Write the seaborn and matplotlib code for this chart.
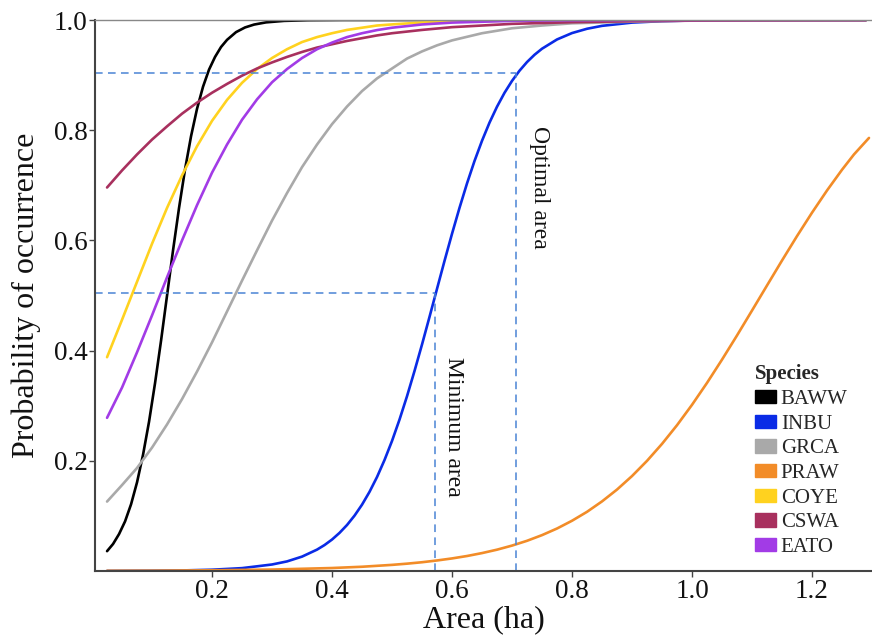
import numpy as np
import pandas as pd
import matplotlib
matplotlib.use("Agg")
import matplotlib.pyplot as plt
import matplotlib.patches as mpatches
import seaborn as sns

# predicted probability of occurrence vs patch area
species = ["BAWW", "INBU", "GRCA", "PRAW", "COYE", "CSWA", "EATO"]
colors = ["#000000", "#0a2be6", "#a9a9a9", "#f28c28", "#ffd21f", "#a8305e", "#a23be6"]

baww_x = [0.025, 0.035, 0.045, 0.055, 0.065, 0.075, 0.085, 0.095, 0.105, 0.115, 0.125,
          0.135, 0.145, 0.155, 0.165, 0.175, 0.185, 0.195, 0.205, 0.215, 0.225, 0.24,
          0.255, 0.27, 0.29, 0.32, 0.36, 0.42, 0.6, 0.8, 1.0, 1.29]
baww_p = [0.036, 0.049, 0.067, 0.090, 0.121, 0.161, 0.211, 0.271, 0.341, 0.418, 0.500,
          0.582, 0.659, 0.729, 0.789, 0.839, 0.879, 0.910, 0.933, 0.951, 0.964, 0.978,
          0.9865, 0.9917, 0.9957, 0.9984, 0.9996, 1.0, 1.0, 1.0, 1.0, 1.0]

grid_x = [0.025, 0.05, 0.075, 0.10, 0.125, 0.15, 0.175, 0.20, 0.225, 0.25, 0.275, 0.30,
          0.325, 0.35, 0.375, 0.40, 0.425, 0.45, 0.475, 0.50, 0.55, 0.60, 0.70, 0.80,
          0.90, 1.0, 1.1, 1.29]
coye_p = [0.388, 0.456, 0.525, 0.594, 0.659, 0.718, 0.771, 0.817, 0.855, 0.886, 0.911, 0.931,
          0.947, 0.960, 0.969, 0.976, 0.982, 0.986, 0.990, 0.992, 0.9955, 0.9974, 0.9991,
          0.9997, 1.0, 1.0, 1.0, 1.0]
eato_p = [0.278, 0.333, 0.397, 0.464, 0.533, 0.600, 0.664, 0.723, 0.774, 0.819, 0.856, 0.887,
          0.911, 0.931, 0.947, 0.959, 0.969, 0.976, 0.9817, 0.986, 0.9919, 0.9953, 0.9984,
          0.9995, 0.9998, 1.0, 1.0, 1.0]
cswa_p = [0.696, 0.727, 0.756, 0.783, 0.807, 0.830, 0.850, 0.868, 0.884, 0.899, 0.912, 0.923,
          0.933, 0.942, 0.950, 0.956, 0.962, 0.967, 0.972, 0.976, 0.982, 0.987, 0.993,
          0.996, 0.9978, 0.9988, 0.9993, 0.9998]

grca_x = [0.025, 0.05, 0.075, 0.10, 0.125, 0.15, 0.175, 0.20, 0.225, 0.25, 0.275, 0.30,
          0.325, 0.35, 0.375, 0.40, 0.425, 0.45, 0.475, 0.50, 0.525, 0.55, 0.575, 0.60,
          0.65, 0.70, 0.75, 0.80, 0.90, 1.0, 1.1, 1.29]
grca_p = [0.126, 0.156, 0.187, 0.224, 0.266, 0.312, 0.362, 0.415, 0.471, 0.527, 0.582, 0.636,
          0.686, 0.733, 0.774, 0.811, 0.843, 0.871, 0.894, 0.912, 0.930, 0.943, 0.954, 0.963,
          0.976, 0.985, 0.990, 0.994, 0.997, 0.999, 0.9996, 1.0]

inbu_x = [0.025, 0.1, 0.15, 0.2, 0.25, 0.30, 0.325, 0.35, 0.375, 0.3875, 0.40, 0.4125,
          0.425, 0.4375, 0.45, 0.4625, 0.475, 0.4875, 0.50, 0.5125, 0.525, 0.5375, 0.55,
          0.5625, 0.575, 0.5875, 0.60, 0.6125, 0.625, 0.6375, 0.65, 0.6625, 0.675, 0.6875,
          0.70, 0.7125, 0.725, 0.7375, 0.75, 0.775, 0.80, 0.825, 0.85, 0.90, 0.95, 1.0,
          1.1, 1.29]
inbu_p = [0.0001, 0.0005, 0.001, 0.0023, 0.0052, 0.0118, 0.0174, 0.0261, 0.0388, 0.0471,
          0.0571, 0.0692, 0.0835, 0.1005, 0.1204, 0.1437, 0.1706, 0.2015, 0.2361, 0.2749,
          0.3173, 0.3631, 0.4112, 0.4613, 0.5122, 0.5629, 0.6121, 0.6592, 0.7035, 0.7442,
          0.7809, 0.8138, 0.8427, 0.8679, 0.8895, 0.9080, 0.9237, 0.9369, 0.9479, 0.9647,
          0.9763, 0.9841, 0.9894, 0.9953, 0.9979, 0.9991, 0.9998, 1.0]

praw_x = [0.025, 0.1, 0.2, 0.3, 0.4, 0.45, 0.5, 0.525, 0.55, 0.575, 0.60, 0.625, 0.65,
          0.675, 0.70, 0.725, 0.75, 0.775, 0.80, 0.825, 0.85, 0.875, 0.90, 0.925, 0.95,
          0.975, 1.0, 1.025, 1.05, 1.075, 1.10, 1.125, 1.15, 1.175, 1.20, 1.225, 1.25,
          1.27, 1.295]
praw_p = [0.0004, 0.0006, 0.0013, 0.0026, 0.0054, 0.0077, 0.0111, 0.0133, 0.0159, 0.0191,
          0.0228, 0.0272, 0.0325, 0.0387, 0.0461, 0.0548, 0.0651, 0.0771, 0.0912, 0.1074,
          0.1263, 0.1478, 0.1723, 0.1999, 0.2307, 0.2646, 0.3016, 0.3414, 0.3836, 0.4275,
          0.4727, 0.5182, 0.5635, 0.6078, 0.6503, 0.6906, 0.7282, 0.7561, 0.786]

# dashed guide lines (area, probability)
min_area, min_prob = 0.572, 0.505
opt_area, opt_prob = 0.707, 0.903

curves = {
    "BAWW": (baww_x, baww_p),
    "INBU": (inbu_x, inbu_p),
    "GRCA": (grca_x, grca_p),
    "PRAW": (praw_x, praw_p),
    "COYE": (grid_x, coye_p),
    "CSWA": (grid_x, cswa_p),
    "EATO": (grid_x, eato_p),
}

df = pd.concat(
    [pd.DataFrame({"area": x, "prob": p, "species": sp}) for sp, (x, p) in curves.items()],
    ignore_index=True)

sns.set_style("white")
plt.rcParams["font.family"] = ["Liberation Serif", "DejaVu Serif"]

fig = plt.figure(figsize=(8.72, 6.35), dpi=100)
ax = fig.add_axes([0.109, 0.1008, 0.891, 0.8677])

pal = dict(zip(species, colors))
sns.lineplot(data=df, x="area", y="prob", hue="species", hue_order=species,
             palette=pal, estimator=None, sort=True, linewidth=1.9, legend=False, ax=ax)

xlo, xhi = 0.005, 1.30
dash_col = "#4a84d4"
ls = (0, (5, 3.5))
ax.hlines(opt_prob, xlo, opt_area, colors=dash_col, linestyles=ls, linewidth=1.1)
ax.vlines(opt_area, 0, opt_prob, colors=dash_col, linestyles=ls, linewidth=1.1)
ax.hlines(min_prob, xlo, min_area, colors=dash_col, linestyles=ls, linewidth=1.1)
ax.vlines(min_area, 0, min_prob, colors=dash_col, linestyles=ls, linewidth=1.1)

ax.text(opt_area + 0.038, 0.697, "Optimal area", rotation=-90, fontsize=17,
        ha="center", va="center", color="#111111")
ax.text(min_area + 0.031, 0.262, "Minimum area", rotation=-90, fontsize=17,
        ha="center", va="center", color="#111111")

ax.set_xlim(xlo, xhi)
ax.set_ylim(0, 1.0)
ax.set_xticks([0.2, 0.4, 0.6, 0.8, 1.0, 1.2])
ax.set_yticks([0.2, 0.4, 0.6, 0.8, 1.0])
ax.set_xticklabels(["0.2", "0.4", "0.6", "0.8", "1.0", "1.2"])
ax.set_yticklabels(["0.2", "0.4", "0.6", "0.8", "1.0"])
ax.tick_params(axis="both", direction="out", length=4, width=1, colors="#444444",
               labelsize=19.5, labelcolor="#111111", left=True, bottom=True, pad=1.5)
ax.set_xlabel("Area (ha)", fontsize=23, color="#111111", labelpad=1)
ax.set_ylabel("Probability of occurrence", fontsize=23, color="#111111", labelpad=9)

for side in ["left", "bottom"]:
    ax.spines[side].set_color("#444444")
    ax.spines[side].set_linewidth(1.5)
ax.spines["top"].set_color("#888888")
ax.spines["top"].set_linewidth(1.0)
ax.spines["right"].set_visible(False)

handles = [mpatches.Patch(color=c, label=s) for s, c in zip(species, colors)]
leg = ax.legend(handles=handles, title="Species", loc="upper left",
                bbox_to_anchor=(0.866, 0.426), bbox_transform=fig.transFigure,
                frameon=False, fontsize=15, handlelength=0.98, handleheight=0.6,
                handletextpad=0.25, labelspacing=0.27, borderpad=0.0, borderaxespad=0,
                title_fontproperties={"weight": "bold", "size": 15}, alignment="left")

fig.savefig("out.png", dpi=100)
